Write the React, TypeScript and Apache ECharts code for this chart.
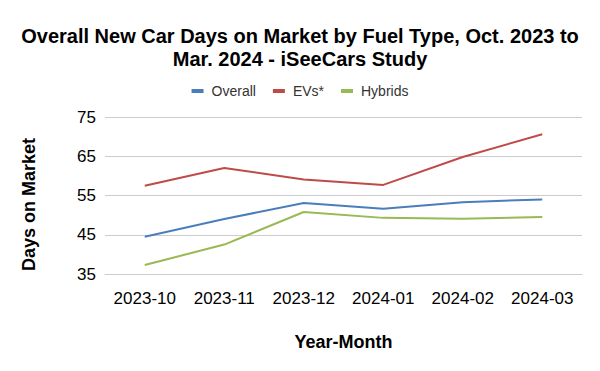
import React, { useEffect, useRef } from "react";
import * as echarts from "echarts";

const categories = ["2023-10", "2023-11", "2023-12", "2024-01", "2024-02", "2024-03"];
const overall = [44.5, 49.0, 53.1, 51.6, 53.3, 54.0];
const evs = [57.5, 62.0, 59.1, 57.7, 64.8, 70.6];
const hybrids = [37.3, 42.5, 50.8, 49.3, 49.1, 49.5];

export default function App() {
  const ref = useRef<HTMLDivElement>(null);
  useEffect(() => {
    const chart = echarts.init(ref.current!, null, { renderer: "svg" });
    const font = "Arial, 'Liberation Sans', sans-serif";
    chart.setOption({
      animation: false,
      backgroundColor: "#ffffff",
      title: {
        text: "Overall New Car Days on Market by Fuel Type, Oct. 2023 to\nMar. 2024 - iSeeCars Study",
        left: "center",
        top: 19,
        textStyle: { fontFamily: font, fontWeight: "bold", fontSize: 20, color: "#000", lineHeight: 23.5 },
      },
      legend: {
        top: 79,
        left: "center",
        itemWidth: 12,
        itemHeight: 4,
        itemGap: 17,
        icon: "rect",
        textStyle: { fontFamily: font, fontSize: 14, color: "#333", padding: [0, 0, 0, 3] },
        data: ["Overall", "EVs*", "Hybrids"],
      },
      grid: { left: 105, right: 18, top: 117, bottom: 97, containLabel: false },
      xAxis: {
        type: "category",
        data: categories,
        boundaryGap: true,
        name: "Year-Month",
        nameLocation: "middle",
        nameGap: 59,
        nameTextStyle: { fontFamily: font, fontWeight: "bold", fontSize: 18, color: "#000" },
        axisLine: { show: true, lineStyle: { color: "#cccccc" } },
        axisTick: { show: false },
        axisLabel: { fontFamily: font, fontSize: 17, color: "#000", margin: 16, interval: 0 },
      },
      yAxis: {
        type: "value",
        min: 35,
        max: 75,
        interval: 10,
        name: "Days on Market",
        nameLocation: "middle",
        nameGap: 67,
        nameTextStyle: { fontFamily: font, fontWeight: "bold", fontSize: 18, color: "#000", padding: [0, 18, 0, 0] },
        axisLine: { show: false },
        axisTick: { show: false },
        axisLabel: { fontFamily: font, fontSize: 17, color: "#000", margin: 9 },
        splitLine: { lineStyle: { color: "#cccccc" } },
      },
      series: [
        { name: "Overall", type: "line", data: overall, color: "#4a7ebb", showSymbol: false, symbol: "none", lineStyle: { width: 2 } },
        { name: "EVs*", type: "line", data: evs, color: "#be4b48", showSymbol: false, symbol: "none", lineStyle: { width: 2 } },
        { name: "Hybrids", type: "line", data: hybrids, color: "#98b954", showSymbol: false, symbol: "none", lineStyle: { width: 2 } },
      ],
    });
    return () => chart.dispose();
  }, []);
  return <div ref={ref} style={{ width: 600, height: 371, position: "absolute", left: 0, top: 0 }} />;
}
